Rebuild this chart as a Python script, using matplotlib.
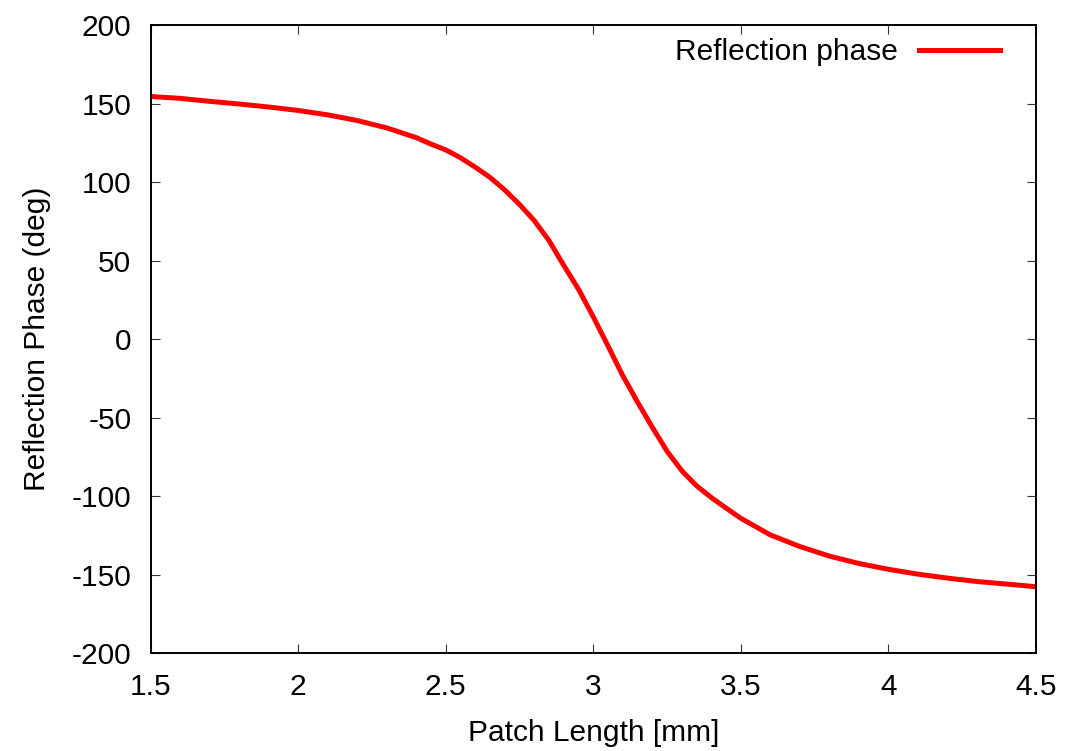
import matplotlib
matplotlib.use("Agg")
import matplotlib.pyplot as plt
import numpy as np

# patch length [mm] vs reflection phase [deg]
patch_len = [1.5, 1.6, 1.7, 1.8, 1.9, 2.0, 2.1, 2.2, 2.3, 2.4, 2.45, 2.5,
             2.55, 2.6, 2.65, 2.7, 2.75, 2.8, 2.85, 2.9, 2.95, 3.0, 3.05,
             3.1, 3.15, 3.2, 3.25, 3.3, 3.35, 3.4, 3.45, 3.5, 3.6, 3.7,
             3.8, 3.9, 4.0, 4.1, 4.2, 4.3, 4.4, 4.5]
phase = [154.5, 153.3, 151.4, 149.7, 147.8, 145.6, 142.8, 139.2, 134.5,
         128.3, 124.2, 120.5, 115.5, 109.5, 103.0, 95.0, 85.8, 75.5, 62.8,
         47.0, 31.8, 14.3, -4.3, -23.2, -40.0, -56.0, -71.3, -83.7, -93.3,
         -100.8, -107.5, -114.0, -124.6, -132.0, -138.1, -142.8, -146.5,
         -149.6, -152.1, -154.3, -155.9, -157.6]

xticks = [1.5, 2, 2.5, 3, 3.5, 4, 4.5]
yticks = [-200, -150, -100, -50, 0, 50, 100, 150, 200]

plt.rcParams['font.family'] = ['Liberation Sans', 'DejaVu Sans']
plt.rcParams['axes.unicode_minus'] = False
fs = 21.5

fig = plt.figure(figsize=(10.68, 7.51), dpi=100)
ax = fig.add_axes([0.1411, 0.1301, 0.9698 - 0.1411, 0.9667 - 0.1301])

ax.plot(patch_len, phase, color='#ff0000', lw=3.6, label='Reflection phase',
        solid_joinstyle='round')

ax.set_xlim(1.5, 4.5)
ax.set_ylim(-200, 200)
ax.set_xticks(xticks)
ax.set_xticklabels(['1.5', '2', '2.5', '3', '3.5', '4', '4.5'])
ax.set_yticks(yticks)

ax.tick_params(direction='in', length=6.5, width=0.8, top=True, right=True,
               labelsize=fs, color='#333333')
ax.tick_params(axis='x', pad=14)
ax.tick_params(axis='y', pad=14)
for s in ax.spines.values():
    s.set_linewidth(1.4)
    s.set_color('black')

ax.set_xlabel('Patch Length [mm]', fontsize=fs, labelpad=13)
ax.set_ylabel('Reflection Phase (deg)', fontsize=fs, labelpad=15)

ax.legend(loc='upper right', bbox_to_anchor=(0.9597, 0.979), frameon=False,
          markerfirst=False, fontsize=fs, handlelength=2.7,
          handletextpad=0.72, borderpad=0, borderaxespad=0)

fig.savefig('out.png', dpi=100)
